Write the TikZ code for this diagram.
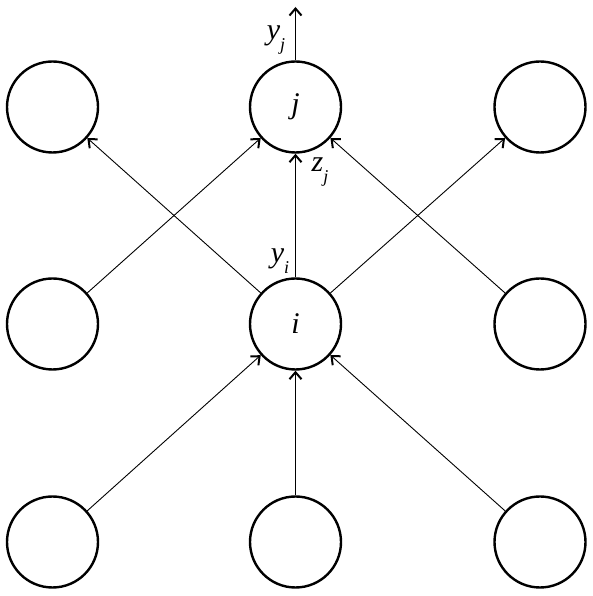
\documentclass[tikz,border=0pt]{standalone}
\usepackage{fontspec}
\setmainfont{Liberation Serif}
\usetikzlibrary{arrows.meta}
\newcommand{\lab}[2]{\itshape #1\raisebox{-0.35em}{\fontsize{18}{18}\selectfont #2}}
\tikzset{
  neuron/.style={circle,draw,line width=2.4pt,minimum size=91pt,inner sep=0pt,font=\fontsize{30}{30}\selectfont\itshape},
  conn/.style={line width=0.9pt,-{Straight Barb[length=7pt,width=12pt,line width=2pt]}},
  lbl/.style={font=\fontsize{30}{30}\selectfont,inner sep=0pt}
}
\begin{document}
\begin{tikzpicture}[x=1pt,y=1pt]
\useasboundingbox (0,0) rectangle (592,596);
\node[neuron] (tl) at (52.5,489) {};
\node[neuron] (tm) at (295.5,489) {j};
\node[neuron] (tr) at (540,489) {};
\node[neuron] (ml) at (52.5,272) {};
\node[neuron] (mm) at (295.5,272) {i};
\node[neuron] (mr) at (540,272) {};
\node[neuron] (bl) at (52.5,54) {};
\node[neuron] (bm) at (295.5,54) {};
\node[neuron] (br) at (540,54) {};
\coordinate (out) at (295.5,589);
\draw[conn] (tm) -- (out);
\draw[conn] (ml) -- (tm);
\draw[conn] (mr) -- (tm);
\draw[conn] (mm) -- (tm);
\draw[conn] (mm) -- (tl);
\draw[conn] (mm) -- (tr);
\draw[conn] (bl) -- (mm);
\draw[conn] (bm) -- (mm);
\draw[conn] (br) -- (mm);
\node[lbl] (yj) at (276,556) {\lab{y}{j}};
\node[lbl] (zj) at (320,424) {\lab{z}{j}};
\node[lbl] (yi) at (280,335) {\lab{y}{i}};
\end{tikzpicture}
\end{document}
